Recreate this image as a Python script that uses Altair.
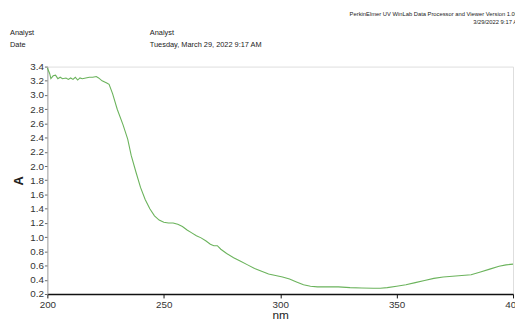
import altair as alt
import pandas as pd

# Wavelength (nm) and absorbance (A)
nm = [200, 201, 201.5, 202.5, 203.5, 204.5, 205.5, 206.5, 208, 209, 210, 211, 212, 213, 214, 215,
      216.5, 218, 219.5, 221, 222, 223.5, 225.5, 226.5, 228, 230, 232.5, 234.5, 236, 238, 240,
      242, 244, 246, 248, 250, 252, 254, 256, 258, 260, 262, 264, 266, 268, 270, 271.5, 273,
      274.5, 277, 280, 283, 286, 289, 292, 295, 298, 301, 304, 307, 310, 313, 316, 320, 325,
      330, 335, 340, 343, 346, 350, 354, 358, 362, 366, 370, 374, 378, 382, 386, 390, 394, 397, 400]
absorbance = [3.38, 3.30, 3.23, 3.27, 3.28, 3.23, 3.25, 3.23, 3.24, 3.22, 3.24, 3.22, 3.25, 3.21, 3.24, 3.23,
              3.24, 3.25, 3.25, 3.26, 3.24, 3.20, 3.17, 3.15, 3.02, 2.80, 2.58, 2.38, 2.15, 1.92, 1.70,
              1.53, 1.40, 1.30, 1.24, 1.21, 1.20, 1.20, 1.18, 1.15, 1.10, 1.06, 1.02, 0.99, 0.95, 0.90, 0.88, 0.88,
              0.83, 0.77, 0.71, 0.66, 0.61, 0.56, 0.52, 0.48, 0.46, 0.44, 0.41, 0.37, 0.33, 0.31, 0.30, 0.30, 0.30,
              0.29, 0.285, 0.28, 0.28, 0.29, 0.31, 0.33, 0.36, 0.39, 0.42, 0.44, 0.45, 0.46, 0.47, 0.51, 0.55, 0.59, 0.61, 0.62]

x_ticks = [200, 250, 300, 350, 400]
y_ticks = [0.2, 0.4, 0.6, 0.8, 1.0, 1.2, 1.4, 1.6, 1.8, 2.0, 2.2, 2.4, 2.6, 2.8, 3.0, 3.2, 3.4]

header_right_1 = "PerkinElmer UV WinLab Data Processor and Viewer Version 1.00.00"
header_right_2 = "3/29/2022 9:17 AM"
label_analyst = "Analyst"
label_date = "Date"
value_analyst = "Analyst"
value_date = "Tuesday, March 29, 2022 9:17 AM"

FONT = "Liberation Sans Narrow, Liberation Sans, Arial"

df = pd.DataFrame({"nm": nm, "A": absorbance})

line = alt.Chart(df).mark_line(color="#6bb35c", strokeWidth=1.1).encode(
    x=alt.X("nm:Q", scale=alt.Scale(domain=[200, 400], nice=False, zero=False),
            axis=alt.Axis(values=x_ticks, title="nm", format="d", grid=False, labelFlush=False,
                          domainColor="#111111", domainWidth=1.5, tickColor="#111111",
                          tickSize=4, labelFont=FONT, labelFontSize=10, labelColor="#333333",
                          labelPadding=2, titleFont=FONT, titleFontSize=12, titleFontWeight="normal",
                          titleColor="#222222", titlePadding=0)),
    y=alt.Y("A:Q", scale=alt.Scale(domain=[0.2, 3.4], nice=False, zero=False),
            axis=alt.Axis(values=y_ticks, title="A", format=".1f", grid=False,
                          domainColor="#aaaaaa", tickColor="#666666", tickSize=3,
                          labelFont=FONT, labelFontSize=10, labelColor="#333333", labelPadding=1,
                          titleFont=FONT, titleFontSize=13, titleFontWeight="bold",
                          titleColor="#222222", titlePadding=4)),
)

def txt(s, x, y, align="left", size=7.5):
    return alt.Chart(pd.DataFrame({"t": [s]})).mark_text(
        align=align, baseline="middle", font=FONT, fontSize=size, color="#222222"
    ).encode(text="t:N", x=alt.value(x), y=alt.value(y))

chart = alt.layer(
    line,
    txt(header_right_1, 307, -53, size=5.9),
    txt(header_right_2, 482, -45, align="right", size=5.9),
    txt(label_analyst, -38, -34),
    txt(label_date, -38, -22),
    txt(value_analyst, 104, -34),
    txt(value_date, 104, -22),
).properties(
    width=473, height=231,
    autosize=alt.AutoSizeParams(type="none"),
    padding={"left": 40, "top": 57, "right": 2, "bottom": 30},
).configure_view(stroke=None).configure(background="white")

chart.save("out.html", embed_options={"renderer": "svg", "actions": False})
